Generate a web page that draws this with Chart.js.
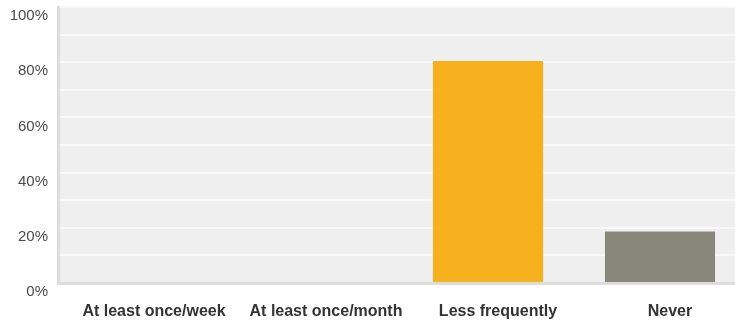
<!DOCTYPE html>
<html>
<head>
<meta charset="utf-8">
<script src="https://cdn.jsdelivr.net/npm/chart.js@4/dist/chart.umd.min.js"></script>
<style>
html,body{margin:0;padding:0;background:#fff;overflow:hidden;}
#wrap{width:735px;height:321px;overflow:hidden;position:relative;}
canvas{display:block;}
</style>
</head>
<body>
<div id="wrap"><canvas id="c" width="746" height="321"></canvas></div>
<script>
const categories = ["At least once/week", "At least once/month", "Less frequently", "Never"];
const values = [0, 0, 80.4, 18.7];
const barColors = ["#f7b11f", "#f7b11f", "#f7b11f", "#88887a"];
const yTickLabels = ["0%", "20%", "40%", "60%", "80%", "100%"];

const bgPlugin = {
  id: 'plotBg',
  beforeDraw(chart) {
    const {ctx, chartArea: a} = chart;
    ctx.save();
    ctx.fillStyle = '#efefef';
    ctx.fillRect(a.left, a.top, a.right - a.left, a.bottom - a.top);
    ctx.restore();
  }
};

new Chart(document.getElementById('c'), {
  type: 'bar',
  data: {
    labels: categories,
    datasets: [{
      data: values,
      backgroundColor: barColors,
      borderWidth: 0,
      categoryPercentage: 1,
      barPercentage: 0.64
    }]
  },
  options: {
    responsive: false,
    animation: false,
    layout: { padding: { top: 7, left: 0, right: 0, bottom: 0 } },
    plugins: { legend: { display: false }, tooltip: { enabled: false } },
    scales: {
      x: {
        grid: { display: false, drawTicks: false },
        border: { display: true, color: '#dcdcdc', width: 3 },
        ticks: {
          color: '#333',
          font: { family: 'Liberation Sans, Arial, sans-serif', size: 16, weight: 'bold' },
          padding: 19,
          labelOffset: 10,
          maxRotation: 0,
          autoSkip: false
        },
        afterFit(s) { s.height = 38; s.paddingLeft = 0; s.paddingRight = 0; }
      },
      y: {
        min: 0, max: 100,
        grid: { color: '#f9f9f9', lineWidth: 2, drawTicks: false },
        border: { display: true, color: '#dcdcdc', width: 3 },
        ticks: {
          stepSize: 10,
          color: '#4a4a4a',
          font: { family: 'Liberation Sans, Arial, sans-serif', size: 15 },
          padding: 10,
          labelOffset: 9,
          callback(v) {
            const idx = yTickLabels.indexOf(v + '%');
            return v % 20 === 0 && idx >= 0 ? yTickLabels[idx] : '';
          }
        },
        afterFit(s) { s.width = 58; s.paddingTop = 0; s.paddingBottom = 0; }
      }
    }
  },
  plugins: [bgPlugin]
});
</script>
</body>
</html>
